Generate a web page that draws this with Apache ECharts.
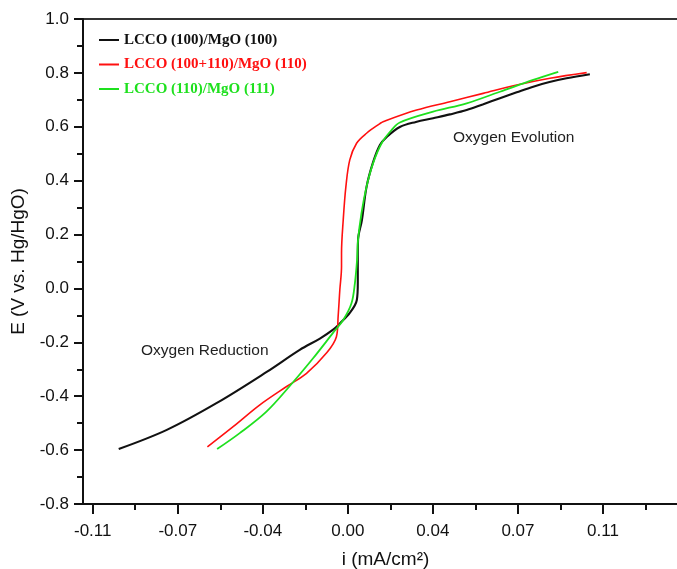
<!DOCTYPE html>
<html>
<head>
<meta charset="utf-8">
<script src="https://cdn.jsdelivr.net/npm/echarts@6/dist/echarts.min.js"></script>
<style>
html,body{margin:0;padding:0;background:#fff;}
#chart{width:677px;height:569px;}
</style>
</head>
<body>
<div id="chart"></div>
<script>
// Series names
var seriesNames = ['LCCO (100)/MgO (100)', 'LCCO (100+110)/MgO (110)', 'LCCO (110)/MgO (111)'];

// Black: LCCO (100)/MgO (100)  [i (mA/cm2), E (V)]
var blackI = [-0.0943,-0.0745,-0.0539,-0.0334,-0.0198,-0.0115,-0.0062,-0.0033,0.0008,0.0037,0.0041,0.0041,0.0042,0.0058,0.0077,0.0103,0.0132,0.016,0.0214,0.028,0.0351,0.042,0.0489,0.0555,0.0626,0.0695,0.0763,0.083,0.09,0.0996];
var blackE = [-0.596,-0.525,-0.425,-0.310,-0.228,-0.186,-0.154,-0.130,-0.091,-0.043,0.020,0.106,0.180,0.254,0.377,0.466,0.532,0.562,0.599,0.618,0.632,0.646,0.662,0.683,0.706,0.728,0.749,0.766,0.780,0.795];

// Red: LCCO (100+110)/MgO (110)
var redI = [-0.0578,-0.0472,-0.0362,-0.0252,-0.0170,-0.0088,-0.0047,-0.0040,-0.0033,-0.0026,-0.0026,-0.0019,-0.0008,0.0008,0.0036,0.0077,0.0132,0.0145,0.0283,0.042,0.0557,0.0695,0.0832,0.0983];
var redE = [-0.588,-0.513,-0.432,-0.364,-0.315,-0.240,-0.179,-0.105,-0.006,0.081,0.131,0.254,0.378,0.477,0.539,0.576,0.612,0.619,0.662,0.693,0.724,0.755,0.780,0.801];

// Green: LCCO (110)/MgO (111)
var greenI = [-0.0538,-0.0445,-0.0335,-0.0239,-0.0143,-0.0061,-0.0019,0.0015,0.0029,0.0038,0.0042,0.0056,0.0077,0.0104,0.0139,0.018,0.0214,0.0351,0.0489,0.0626,0.0763,0.0866];
var greenE = [-0.596,-0.537,-0.457,-0.362,-0.259,-0.165,-0.117,-0.055,0.019,0.106,0.180,0.279,0.378,0.465,0.539,0.588,0.616,0.656,0.687,0.730,0.774,0.804];

// Axis ticks
var xTickValues = [-0.105,-0.07,-0.035,0,0.035,0.07,0.105];
var xTickLabels = ['-0.11','-0.07','-0.04','0.00','0.04','0.07','0.11'];
var xMinorValues = [-0.0875,-0.0525,-0.0175,0.0175,0.0525,0.0875,0.1225];

function zip(a,b){var r=[];for(var k=0;k<a.length;k++){r.push([a[k],b[k]]);}return r;}

var chart = echarts.init(document.getElementById('chart'), null, {renderer:'canvas'});
var axisFont = 'Liberation Sans, Arial, sans-serif';
var option = {
  backgroundColor:'#ffffff',
  animation:false,
  grid:{left:83, top:19, right:-11, bottom:65, show:true, borderColor:'#333', borderWidth:2, outerBoundsMode:'none', containLabel:false},
  legend:{
    orient:'vertical', left:94, top:27, itemWidth:20, itemHeight:2, itemGap:8.5,
    icon:'rect',
    textStyle:{fontFamily:'Liberation Serif, Times New Roman, serif', fontWeight:'bold', fontSize:15, lineHeight:16},
    data:[
      {name:seriesNames[0], textStyle:{color:'#111'}},
      {name:seriesNames[1], textStyle:{color:'#ff1010'}},
      {name:seriesNames[2], textStyle:{color:'#1ee01e'}}
    ]
  },
  xAxis:[{
    type:'value', min:-0.109, max:0.14,
    name:'i (mA/cm²)', nameLocation:'middle', nameGap:46,
    nameTextStyle:{fontFamily:axisFont, fontSize:19, color:'#111'},
    axisLine:{show:true, onZero:false, lineStyle:{color:'#111', width:2}},
    axisTick:{show:true, inside:false, length:10, customValues:xTickValues, lineStyle:{color:'#111', width:2}},
    axisLabel:{show:true, margin:19, fontFamily:axisFont, fontSize:17, color:'#111', customValues:xTickValues,
      formatter:function(v){var best=0;for(var k=0;k<xTickValues.length;k++){if(Math.abs(xTickValues[k]-v)<Math.abs(xTickValues[best]-v))best=k;}return xTickLabels[best];}},
    splitLine:{show:false}
  },{
    type:'value', min:-0.109, max:0.14, position:'bottom',
    axisLine:{show:false, onZero:false},
    axisTick:{show:true, inside:false, length:6, customValues:xMinorValues, lineStyle:{color:'#111', width:2}},
    axisLabel:{show:false},
    splitLine:{show:false}
  }],
  yAxis:{
    type:'value', min:-0.8, max:1.0, interval:0.2,
    name:'E (V vs. Hg/HgO)', nameLocation:'middle', nameGap:55,
    nameTextStyle:{fontFamily:axisFont, fontSize:19, color:'#111'},
    axisLine:{show:true, onZero:false, lineStyle:{color:'#111', width:2}},
    axisTick:{show:true, inside:false, length:9, lineStyle:{color:'#111', width:2}},
    minorTick:{show:true, splitNumber:2, length:6, lineStyle:{color:'#111', width:2}},
    axisLabel:{margin:14, fontFamily:axisFont, fontSize:17, color:'#111', formatter:function(v){return v.toFixed(1);}},
    splitLine:{show:false}
  },
  graphic:[
    {type:'text', left:453, top:130, style:{text:'Oxygen Evolution', fontFamily:axisFont, fontSize:15.5, fill:'#222'}},
    {type:'text', left:141, top:343, style:{text:'Oxygen Reduction', fontFamily:axisFont, fontSize:15.5, fill:'#222'}}
  ],
  series:[
    {name:seriesNames[0], type:'line', xAxisIndex:0, data:zip(blackI,blackE), showSymbol:false, smooth:0.35, lineStyle:{color:'#111', width:2.1}, itemStyle:{color:'#111'}},
    {name:seriesNames[1], type:'line', xAxisIndex:0, data:zip(redI,redE), showSymbol:false, smooth:0.35, lineStyle:{color:'#ff1010', width:1.6}, itemStyle:{color:'#ff1010'}},
    {name:seriesNames[2], type:'line', xAxisIndex:0, data:zip(greenI,greenE), showSymbol:false, smooth:0.35, lineStyle:{color:'#1ee01e', width:1.8}, itemStyle:{color:'#1ee01e'}}
  ]
};
chart.setOption(option);
</script>
</body>
</html>
